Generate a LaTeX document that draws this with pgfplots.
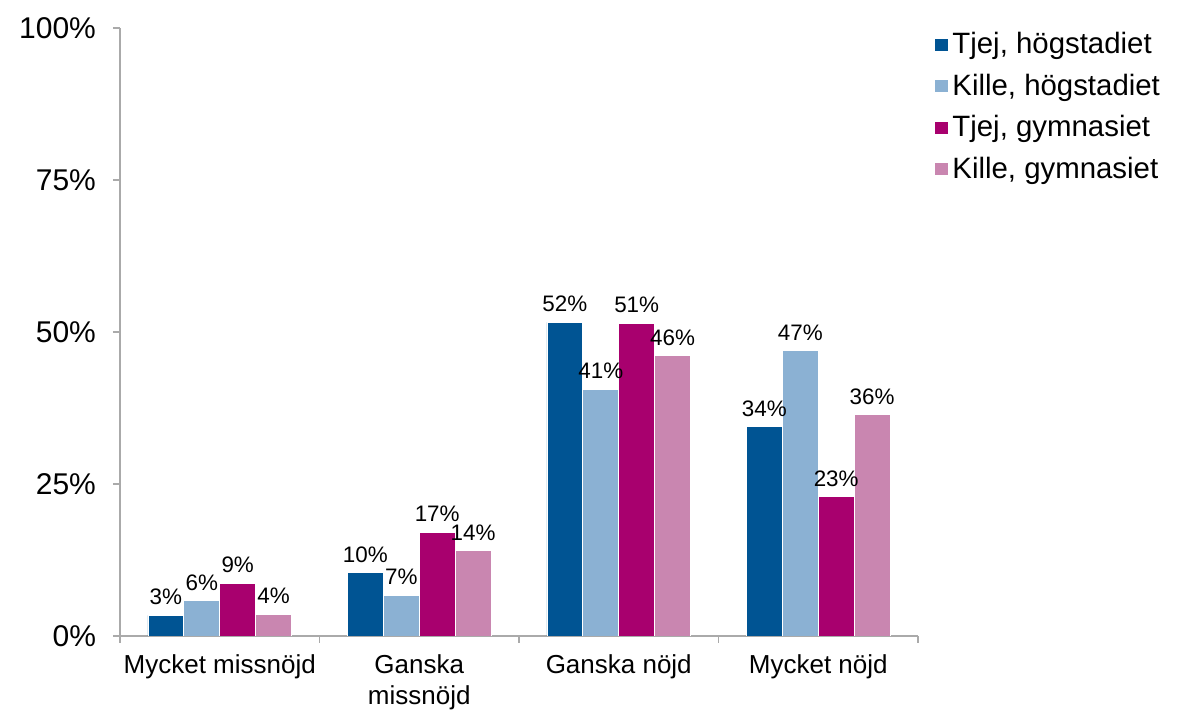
\documentclass[border=0pt]{standalone}
\usepackage{pgfplots}
\pgfplotsset{compat=1.18}
\usepackage{fontspec}
\setmainfont{Liberation Sans}
\definecolor{c1}{RGB}{0,84,147}
\definecolor{c2}{RGB}{139,177,211}
\definecolor{c3}{RGB}{168,0,110}
\definecolor{c4}{RGB}{201,134,176}
\definecolor{axgray}{RGB}{170,170,170}
\begin{document}
\begin{tikzpicture}
\useasboundingbox (-60pt,-37pt) rectangle (537.5pt,318pt);
\begin{axis}[
  scale only axis,
  width=399pt, height=304pt,
  anchor=south west, at={(0,0)},
  ybar, bar width=0.18,
  xmin=-0.5, xmax=3.5, ymin=0, ymax=100,
  axis x line*=bottom, axis y line*=left,
  axis line style={axgray, line width=0.6pt},
  tick style={axgray, line width=0.6pt},
  tick align=outside,
  major tick length=3.5pt,
  minor tick length=3.5pt,
  xtick={0,1,2,3},
  xticklabels={Mycket missnöjd, Ganska\\missnöjd, Ganska nöjd, Mycket nöjd},
  major x tick style={draw=none},
  minor xtick={-0.5,0.5,1.5,2.5,3.5},
  xticklabel style={font=\fontsize{13}{15.5}\selectfont, align=center, text=black, yshift=-2.5pt},
  ytick={0,25,50,75,100},
  yticklabel={\pgfmathprintnumber{\tick}\%},
  yticklabel style={font=\fontsize{15}{17}\selectfont, text=black, xshift=-5pt},
  /pgf/number format/assume math mode=true,
  nodes near coords={\pgfmathprintnumber[fixed,precision=0]{\pgfplotspointmeta}\%},
  every node near coord/.append style={font=\fontsize{11.2}{13}\selectfont, text=black, inner sep=1.5pt, yshift=3.5pt},
  legend style={draw=none, fill=none, at={(1,1)}, anchor=north west, xshift=5pt, yshift=2pt,
    font=\fontsize{14.7}{17}\selectfont, row sep=4.6pt,
    legend cell align=left},
  legend image code/.code={\fill[#1] (-1pt,-3.3pt) rectangle (5.6pt,3.3pt);},
]
\addplot[fill=c1, draw=white, line width=0.4pt, bar shift=-0.27] coordinates {(0,3.4) (1,10.4) (2,51.6) (3,34.4)};
\addplot[fill=c2, draw=white, line width=0.4pt, bar shift=-0.09] coordinates {(0,5.8) (1,6.7) (2,40.6) (3,46.9)};
\addplot[fill=c3, draw=white, line width=0.4pt, bar shift=0.09] coordinates {(0,8.7) (1,17.1) (2,51.4) (3,22.9)};
\addplot[fill=c4, draw=white, line width=0.4pt, bar shift=0.27] coordinates {(0,3.6) (1,14.0) (2,46.1) (3,36.4)};
\legend{{Tjej, högstadiet}, {Kille, högstadiet}, {Tjej, gymnasiet}, {Kille, gymnasiet}}
\end{axis}
\end{tikzpicture}
\end{document}
